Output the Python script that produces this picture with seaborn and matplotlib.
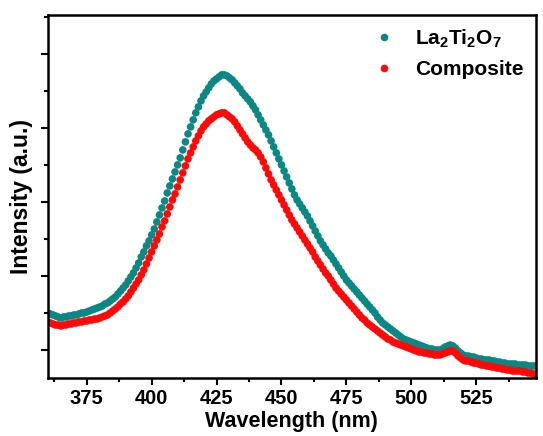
import pandas as pd
import matplotlib
matplotlib.use("Agg")
import matplotlib.pyplot as plt
from matplotlib.ticker import MultipleLocator
import seaborn as sns

# Wavelength grid (nm), 1 nm steps, and PL intensities (a.u.)
wavelength = list(range(360, 549))

la2ti2o7 = [111, 110, 109, 108, 107, 106, 107, 107, 108, 108,
            109, 109, 110, 111, 111, 112, 113, 114, 115, 116,
            117, 118, 120, 121, 123, 125, 127, 130, 133, 136,
            139, 143, 147, 151, 156, 161, 167, 172, 178, 183,
            189, 195, 202, 209, 216, 223, 231, 238, 245, 252,
            259, 266, 274, 282, 290, 297, 304, 311, 317, 323,
            328, 332, 336, 340, 343, 345, 347, 349, 349, 348,
            346, 344, 341, 338, 335, 331, 328, 325, 322, 318,
            314, 309, 304, 299, 294, 289, 283, 277, 271, 265,
            259, 253, 247, 241, 235, 229, 224, 220, 216, 212,
            208, 203, 198, 193, 188, 183, 179, 175, 171, 168,
            164, 160, 156, 152, 148, 144, 141, 138, 135, 132,
            129, 126, 123, 120, 117, 114, 111, 107, 104, 101,
            99, 97, 95, 93, 91, 89, 87, 85, 84, 83,
            82, 81, 80, 79, 78, 77, 76, 75, 75, 74,
            74, 74, 75, 77, 78, 79, 78, 76, 73, 71,
            69, 68, 68, 67, 67, 66, 65, 65, 64, 64,
            64, 63, 63, 62, 62, 61, 61, 60, 60, 60,
            60, 59, 59, 59, 59, 58, 58, 58, 58]

composite = [102, 101, 100, 99, 99, 98, 99, 99, 100, 100,
             101, 101, 102, 102, 103, 103, 104, 104, 105, 105,
             106, 107, 108, 109, 111, 113, 115, 117, 120, 122,
             125, 128, 132, 136, 140, 144, 149, 154, 160, 166,
             172, 178, 184, 190, 197, 203, 210, 217, 224, 230,
             237, 244, 251, 258, 265, 271, 277, 283, 288, 293,
             297, 300, 303, 305, 307, 309, 310, 311, 311, 309,
             307, 305, 302, 298, 294, 290, 286, 282, 279, 276,
             274, 271, 267, 262, 256, 250, 244, 239, 234, 229,
             224, 219, 214, 209, 204, 200, 196, 192, 188, 184,
             180, 176, 172, 167, 163, 159, 155, 151, 148, 144,
             140, 136, 133, 130, 127, 124, 121, 118, 115, 112,
             109, 106, 104, 101, 99, 97, 95, 93, 91, 89,
             87, 85, 84, 82, 81, 80, 79, 78, 77, 76,
             75, 74, 73, 72, 72, 71, 71, 70, 70, 69,
             69, 69, 70, 71, 72, 73, 73, 71, 68, 66,
             64, 63, 63, 62, 61, 61, 60, 59, 59, 58,
             58, 57, 57, 56, 56, 55, 55, 54, 54, 53,
             53, 53, 53, 52, 52, 51, 51, 50, 50]

labels = [r"La$_2$Ti$_2$O$_7$", "Composite"]
colors = ["#0B8784", "#FF0808"]

df = pd.concat([
    pd.DataFrame({"Wavelength": wavelength, "Intensity": la2ti2o7, "Sample": labels[0]}),
    pd.DataFrame({"Wavelength": wavelength, "Intensity": composite, "Sample": labels[1]}),
])

sns.set_style("ticks", {"axes.edgecolor": "black", "xtick.color": "black",
                        "ytick.color": "black", "text.color": "black",
                        "axes.labelcolor": "black"})
plt.rcParams["font.family"] = ["Liberation Sans", "DejaVu Sans"]
plt.rcParams["font.weight"] = "bold"
plt.rcParams["mathtext.fontset"] = "custom"
plt.rcParams["mathtext.rm"] = "Liberation Sans:bold"
plt.rcParams["mathtext.default"] = "rm"

fig = plt.figure(figsize=(5.43, 4.36), dpi=100)
ax = fig.add_axes([0.088, 0.133, 0.899, 0.833])

sns.scatterplot(data=df, x="Wavelength", y="Intensity", hue="Sample",
                palette=colors, s=30, linewidth=0, ax=ax)

ax.set_xlim(360, 548)
ax.set_ylim(46, 409)
ax.xaxis.set_major_locator(MultipleLocator(25))
ax.xaxis.set_minor_locator(MultipleLocator(12.5))
ax.yaxis.set_major_locator(MultipleLocator(74))
ax.yaxis.set_minor_locator(MultipleLocator(37))
ax.set_yticklabels([])
ax.tick_params(which="major", direction="out", length=5, width=1.5,
               labelsize=14.5, pad=3)
ax.tick_params(which="minor", direction="out", length=3, width=1.5)
for sp in ax.spines.values():
    sp.set_linewidth(1.8)

ax.set_xlabel("Wavelength (nm)", fontsize=15.5, fontweight="bold")
ax.xaxis.set_label_coords(0.5, -0.092)
ax.set_ylabel("Intensity (a.u.)", fontsize=16.5, fontweight="bold", labelpad=3)

ax.legend(loc="upper right", frameon=False, fontsize=15, markerscale=1.0,
          handletextpad=0.5, labelspacing=0.5, borderaxespad=0.2)

fig.savefig("out.png", dpi=100)
